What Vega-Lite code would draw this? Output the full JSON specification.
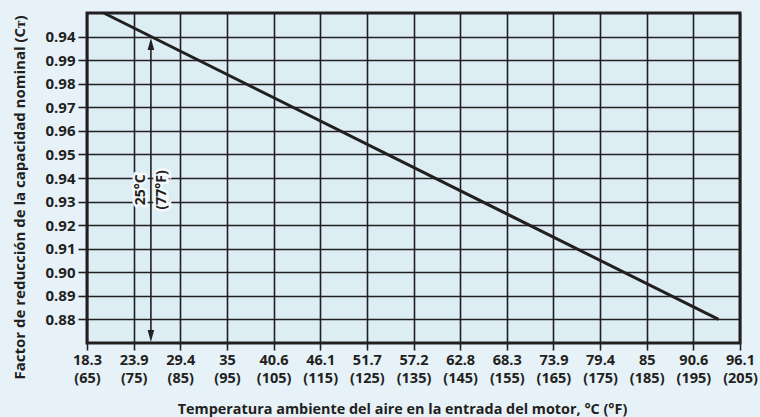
{
  "$schema": "https://vega.github.io/schema/vega-lite/v6.json",
  "width": 653,
  "height": 330,
  "autosize": {"type": "none"},
  "padding": {"left": 87, "top": 13, "right": 20, "bottom": 74},
  "background": "#e6f2f8",
  "config": {
    "view": {"fill": "#dcedf4", "stroke": "#231f20", "strokeWidth": 3},
    "font": "Open Sans",
    "axis": {
      "labelFont": "Open Sans", "labelFontWeight": "bold", "labelFontSize": 15, "labelColor": "#231f20",
      "titleFont": "Open Sans", "titleFontWeight": "bold", "titleColor": "#231f20",
      "grid": true, "gridColor": "#231f20", "gridWidth": 1.6, "gridOpacity": 1,
      "tickColor": "#231f20", "tickWidth": 1.6,
      "domain": false
    }
  },
  "datasets": {
    "curve": [
      {"f": 68.6, "ct": 1.01},
      {"f": 200.4, "ct": 0.88}
    ],
    "arrow": [
      {"f": 78.7, "ct": 0.9969, "ct2": 0.873}
    ],
    "heads": [
      {"f": 78.7, "ct": 0.9969, "dir": "up"},
      {"f": 78.7, "ct": 0.873, "dir": "down"}
    ],
    "notes": [
      {"f": 76.5, "ct": 0.935, "txt": "25°C"},
      {"f": 81.0, "ct": 0.935, "txt": "(77°F)"}
    ]
  },
  "encoding": {
    "x": {
      "field": "f", "type": "quantitative",
      "scale": {"domain": [65, 205], "nice": false, "zero": false},
      "axis": {
        "values": [65, 75, 85, 95, 105, 115, 125, 135, 145, 155, 165, 175, 185, 195, 205],
        "labelExpr": "[format((datum.value - 32) * 5 / 9, '.3~r'), '(' + datum.value + ')']",
        "labelFontSize": 14.5,
        "labelLineHeight": 18, "labelPadding": 3, "labelFlush": false, "labelOverlap": false,
        "tickSize": 7,
        "title": "Temperatura ambiente del aire en la entrada del motor, °C (°F)",
        "titleFontSize": 14.4,
        "titleX": 315, "titleY": 70, "titleBaseline": "alphabetic"
      }
    },
    "y": {
      "field": "ct", "type": "quantitative",
      "scale": {"domain": [0.87, 1.01], "nice": false, "zero": false},
      "axis": {
        "values": [0.88, 0.89, 0.9, 0.91, 0.92, 0.93, 0.94, 0.95, 0.96, 0.97, 0.98, 0.99, 1.0],
        "tickCount": 14,
        "labelExpr": "datum.value >= 0.995 ? '0.94' : format(datum.value, '.2f')",
        "labelPadding": 3, "labelOverlap": false,
        "tickSize": 9,
        "title": "Factor de reducción de la capacidad nominal (Cᴛ)",
        "titleFontSize": 15,
        "titleX": -68, "titleY": 184, "titleAngle": -90, "titleAlign": "center", "titleBaseline": "middle"
      }
    }
  },
  "layer": [
    {
      "data": {"name": "curve"},
      "mark": {"type": "line", "color": "#231f20", "strokeWidth": 3}
    },
    {
      "data": {"name": "arrow"},
      "mark": {"type": "rule", "color": "#231f20", "strokeWidth": 1.6},
      "encoding": {
        "y2": {"field": "ct2"}
      }
    },
    {
      "data": {"name": "heads"},
      "mark": {"type": "point", "filled": true, "color": "#231f20", "opacity": 1, "size": 144},
      "encoding": {
        "shape": {
          "field": "dir", "type": "nominal",
          "scale": {"domain": ["up", "down"], "range": ["M0,-1L0.55,1L-0.55,1Z", "M0,1L0.55,-1L-0.55,-1Z"]},
          "legend": null
        }
      }
    },
    {
      "data": {"name": "notes"},
      "mark": {"type": "text", "angle": 270, "font": "Open Sans", "fontWeight": "bold", "fontSize": 14, "color": "#ffffff", "stroke": "#f4f9fb", "strokeWidth": 5, "align": "center", "baseline": "middle"},
      "encoding": {
        "text": {"field": "txt", "type": "nominal"}
      }
    },
    {
      "data": {"name": "notes"},
      "mark": {"type": "text", "angle": 270, "font": "Open Sans", "fontWeight": "bold", "fontSize": 14, "color": "#231f20", "align": "center", "baseline": "middle"},
      "encoding": {
        "text": {"field": "txt", "type": "nominal"}
      }
    }
  ]
}
